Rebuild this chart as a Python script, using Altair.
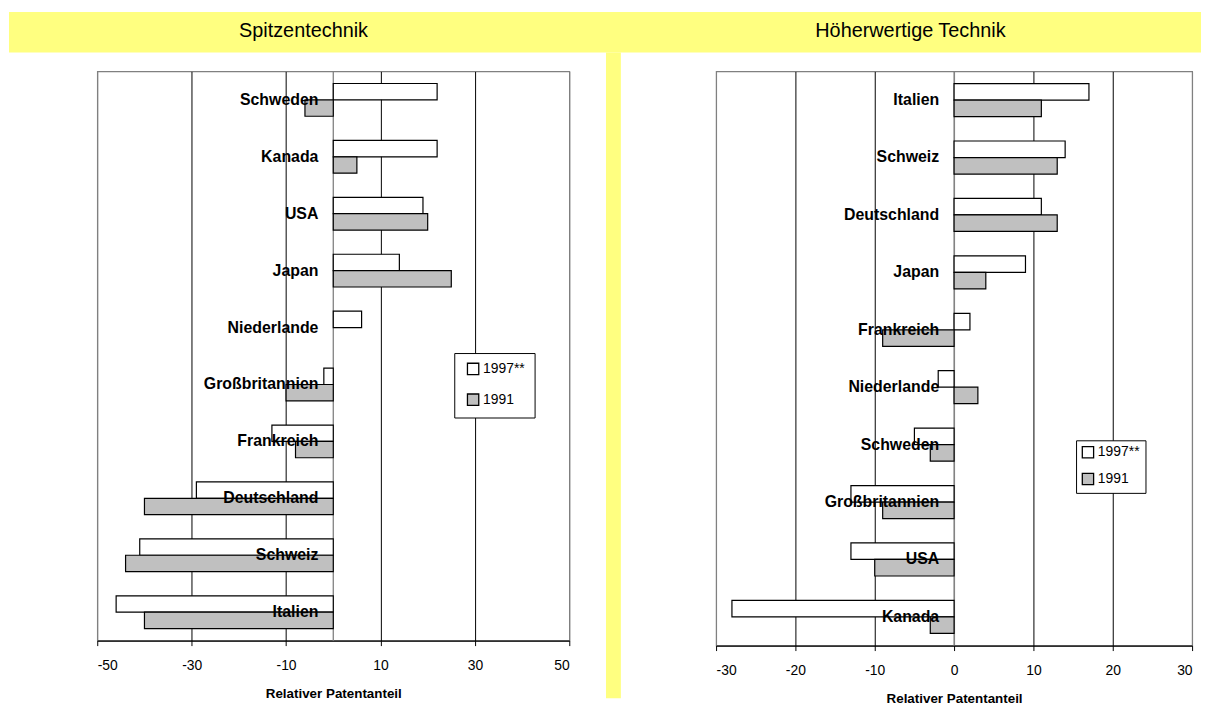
import altair as alt
import pandas as pd

# ---------------- data ----------------
years = ["1997**", "1991"]

spitzen_countries = ["Schweden", "Kanada", "USA", "Japan", "Niederlande",
                     "Großbritannien", "Frankreich", "Deutschland", "Schweiz", "Italien"]
spitzen_1997 = [22, 22, 19, 14, 6, -2, -13, -29, -41, -46]
spitzen_1991 = [-6, 5, 20, 25, None, -10, -8, -40, -44, -40]
spitzen_ticks = [-50, -30, -10, 10, 30, 50]
spitzen_domain = [-50, 50]

hoeher_countries = ["Italien", "Schweiz", "Deutschland", "Japan", "Frankreich",
                    "Niederlande", "Schweden", "Großbritannien", "USA", "Kanada"]
hoeher_1997 = [17, 14, 11, 9, 2, -2, -5, -13, -13, -28]
hoeher_1991 = [11, 13, 13, 4, -9, 3, -3, -9, -10, -3]
hoeher_ticks = [-30, -20, -10, 0, 10, 20, 30]
hoeher_domain = [-30, 30]

titles = ["Spitzentechnik", "Höherwertige Technik"]
x_title = "Relativer Patentanteil"

FONT = "'Liberation Sans Narrow', 'Arial Narrow', 'Liberation Sans', Arial, sans-serif"
REGULAR = "'Liberation Sans', Arial, sans-serif"
YELLOW = "#FFFF80"
GREY = "#C0C0C0"


def make_df(countries, v97, v91):
    rows = []
    for c, a, b in zip(countries, v97, v91):
        rows.append({"country": c, "year": years[0], "value": a})
        rows.append({"country": c, "year": years[1], "value": b})
    return pd.DataFrame(rows)


one = pd.DataFrame({"k": [0]})


def panel(countries, v97, v91, ticks, domain, width, height, title, title_x,
          legend_xy, legend_pad, legend_sym_off, legend_rowpad, extras):
    df = make_df(countries, v97, v91)
    grid_test = "abs(datum.value) >= %d || datum.value == 0" % domain[1]
    x = alt.X(
        "value:Q",
        scale=alt.Scale(domain=domain, nice=False),
        axis=alt.Axis(
            values=ticks, grid=True,
            gridColor={"condition": {"test": grid_test, "value": "#808080"}, "value": "black"},
            gridWidth=1,
            domainColor="black", domainWidth=1.2,
            tickColor="black", tickSize=5,
            labelFont=FONT, labelFontSize=14, labelColor="black", labelPadding=13,
            labelExpr="datum.value < 0 ? '-' + abs(datum.value) : '' + datum.value",
            title=x_title, titleFont=FONT, titleFontSize=13.5, titleFontWeight="bold",
            titleColor="black", titlePadding=14,
        ),
    )
    y = alt.Y("country:N", sort=countries,
              scale=alt.Scale(paddingInner=0.425, paddingOuter=0.2125), axis=None)

    bars = alt.Chart(df).mark_bar(stroke="black", strokeWidth=1.2).encode(
        x=x, y=y,
        yOffset=alt.YOffset("year:N", sort=years),
        fill=alt.Fill(
            "year:N",
            scale=alt.Scale(domain=years, range=["white", GREY]),
            legend=alt.Legend(
                title=None, orient="none", legendX=legend_xy[0], legendY=legend_xy[1],
                direction="vertical", symbolType="square", symbolSize=130,
                symbolStrokeColor="black", symbolStrokeWidth=1.3,
                symbolOffset=legend_sym_off, labelOffset=3,
                labelFont=FONT, labelFontSize=14, labelColor="black",
                rowPadding=legend_rowpad, padding=legend_pad,
                strokeColor="black", fillColor="white",
            ),
        ),
    )
    zero = alt.Chart(one).mark_rule(color="#808080", strokeWidth=1.3).encode(x=alt.datum(0))
    labels = alt.Chart(pd.DataFrame({"country": countries})).mark_text(
        align="right", baseline="middle", dx=-15, font=FONT, fontSize=16,
        fontWeight="bold", color="black",
    ).encode(x=alt.datum(0), y=y, text="country:N")
    ttl = alt.Chart(one).mark_text(
        text=title, font=REGULAR, fontSize=20, color="black",
        align="center", baseline="middle",
    ).encode(x=alt.value(title_x), y=alt.value(-41))

    layers = extras + [ttl, zero, bars, labels]
    return alt.layer(*layers).properties(width=width, height=height)


band = alt.Chart(one).mark_rect(color=YELLOW).encode(
    x=alt.value(-89), x2=alt.value(1113), y=alt.value(-60), y2=alt.value(-19))
strip = alt.Chart(one).mark_rect(color=YELLOW).encode(
    x=alt.value(513), x2=alt.value(528), y=alt.value(-19), y2=alt.value(632))

left = panel(spitzen_countries, spitzen_1997, spitzen_1991, spitzen_ticks, spitzen_domain,
             476, 574, titles[0], 208, (360, 284), 9, 3, 13, [band, strip])
right = panel(hoeher_countries, hoeher_1997, hoeher_1991, hoeher_ticks, hoeher_domain,
              480, 579, titles[1], 196, (363, 372), 5, 0, 9, [])

chart = alt.hconcat(left, right, spacing=148, bounds="flush").resolve_scale(
    x="independent", y="independent", fill="independent", yOffset="independent"
).resolve_legend(fill="independent").configure_view(
    stroke="#808080", strokeWidth=1.2
).properties(padding=0, background="white")

chart.save("out.html", embed_options={"renderer": "svg", "actions": False})
